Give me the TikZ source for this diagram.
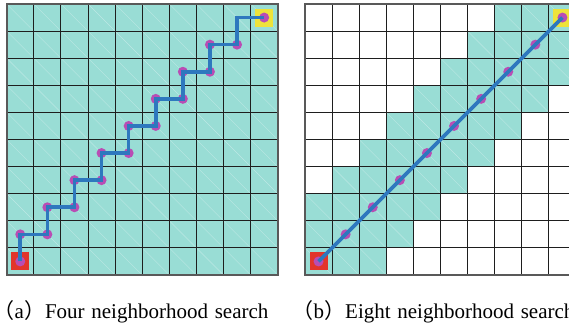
\documentclass[tikz,border=0pt]{standalone}
\usepackage{fontspec}
\setmainfont{Liberation Serif}
\newfontfamily\cjkfont{Noto Sans CJK SC}
\definecolor{GridTeal}{HTML}{99DDD5}
\definecolor{PathBlue}{HTML}{2E78BE}
\definecolor{DotMagenta}{HTML}{B94DB4}
\definecolor{StartRed}{HTML}{E2352B}
\definecolor{GoalYellow}{HTML}{EEE33A}
\definecolor{GridLine}{HTML}{1E1E1E}
\newcommand{\capfont}{\fontsize{21}{24}\selectfont\spaceskip 0.32em\relax}
\tikzset{
  cell/.style={fill=GridTeal},
  cellhint/.style={white, opacity=0.35, line width=0.4pt},
  gridline/.style={GridLine, line width=1pt},
  border/.style={gray!70!black, line width=1.6pt},
  route/.style={PathBlue, line width=3.6pt},
  waypoint/.style={circle, fill=DotMagenta, minimum size=10pt, inner sep=0pt},
  startbox/.style={fill=StartRed, minimum size=18pt, inner sep=0pt},
  goalbox/.style={fill=GoalYellow, minimum size=18pt, inner sep=0pt},
  caption/.style={font={\capfont}, anchor=base west, inner sep=0pt}
}
\newcommand{\cellsz}{27.1}

\begin{document}
\begin{tikzpicture}[x=1pt, y=-1pt]
  \useasboundingbox (0,0) rectangle (569,324);
  \clip (0,0) rectangle (569,324);

  % ========== LEFT: FOUR NEIGHBORHOOD ==========
  \begin{scope}[shift={(6.7,4)}]
    % Cells
    \foreach \r in {0,...,9}
      \foreach \c in {0,...,9} {
        \fill[cell] (\c*\cellsz,\r*\cellsz) rectangle ++(\cellsz,\cellsz);
        \draw[cellhint] (\c*\cellsz,\r*\cellsz) -- ++(\cellsz,\cellsz);
      }
    % Grid
    \foreach \i in {1,...,9} {
      \draw[gridline] (\i*\cellsz,0) -- (\i*\cellsz,10*\cellsz);
      \draw[gridline] (0,\i*\cellsz) -- (10*\cellsz,\i*\cellsz);
    }
    \draw[border] (0,0) rectangle (10*\cellsz,10*\cellsz);

    % Start and goal
    \node[startbox] (startA) at (0.5*\cellsz,9.5*\cellsz) {};
    \node[goalbox] (goalA) at (9.5*\cellsz,0.5*\cellsz) {};
    \node[waypoint] at (startA) {};
    \node[waypoint] at (goalA) {};

    % Waypoints
    \foreach \k in {1,...,8} {
      \node[waypoint] (pa\k) at ({(\k-0.5)*\cellsz},{(9.5-\k)*\cellsz}) {};
      \node[waypoint] (qa\k) at ({(\k+0.5)*\cellsz},{(9.5-\k)*\cellsz}) {};
    }

    % Route
    \draw[route] (startA.center)
      foreach \k in {1,...,8} { -- (pa\k.center) -- (qa\k.center) }
      |- (goalA.center);
  \end{scope}

  % ========== RIGHT: EIGHT NEIGHBORHOOD ==========
  \begin{scope}[shift={(305,4)}]
    % Cells
    \foreach \r in {0,...,9}
      \foreach \c in {0,...,9} {
        \pgfmathtruncatemacro\s{\r+\c}
        \ifnum\s>6 \ifnum\s<12
          \fill[cell] (\c*\cellsz,\r*\cellsz) rectangle ++(\cellsz,\cellsz);
          \draw[cellhint] (\c*\cellsz,\r*\cellsz) -- ++(\cellsz,\cellsz);
        \fi\fi
      }
    % Grid
    \foreach \i in {1,...,9} {
      \draw[gridline] (\i*\cellsz,0) -- (\i*\cellsz,10*\cellsz);
      \draw[gridline] (0,\i*\cellsz) -- (10*\cellsz,\i*\cellsz);
    }
    \draw[border] (0,0) rectangle (10*\cellsz,10*\cellsz);

    % Start and goal
    \node[startbox] (startB) at (0.5*\cellsz,9.5*\cellsz) {};
    \node[goalbox] (goalB) at (9.5*\cellsz,0.5*\cellsz) {};
    \node[waypoint] at (startB) {};
    \node[waypoint] at (goalB) {};

    % Waypoints
    \foreach \k in {1,...,8}
      \node[waypoint] (pb\k) at ({(\k+0.5)*\cellsz},{(9.5-\k)*\cellsz}) {};

    % Route
    \draw[route] (startB.center) -- (goalB.center);
  \end{scope}

  % Captions
  \node[caption] (capA) at (0,318.3) {{\cjkfont\kern-0.31em（}a{\cjkfont）}Four neighborhood search};
  \node[caption] (capB) at (299,318.3) {{\cjkfont\kern-0.31em（}b{\cjkfont）}Eight neighborhood search};
\end{tikzpicture}
\end{document}
